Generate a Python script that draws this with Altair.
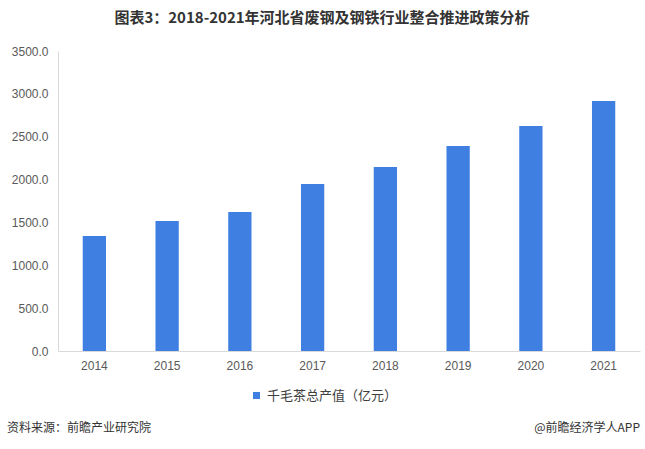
import altair as alt
import pandas as pd

years = ["2014", "2015", "2016", "2017", "2018", "2019", "2020", "2021"]
values = [1342, 1517, 1622, 1948, 2147, 2392, 2625, 2917]
series_name = "千毛茶总产值（亿元）"
title_text = "图表3：2018-2021年河北省废钢及钢铁行业整合推进政策分析"
source_text = "资料来源：前瞻产业研究院"
brand_text = "@前瞻经济学人APP"
y_ticks = [0, 500, 1000, 1500, 2000, 2500, 3000, 3500]

df = pd.DataFrame({"year": years, "value": values, "series": [series_name] * len(years)})

FONT = "Noto Sans CJK SC"
W, H = 582, 300

bars = alt.Chart(df).mark_bar(color="#3F7FE2").encode(
    x=alt.X("year:N", sort=years, title=None,
            scale=alt.Scale(paddingInner=0.68, paddingOuter=0.34),
            axis=alt.Axis(labelAngle=0, ticks=False, domainColor="#D9D9D9",
                          labelColor="#595959", labelFontSize=12, labelFont="Liberation Sans",
                          labelPadding=9)),
    y=alt.Y("value:Q", title=None,
            scale=alt.Scale(domain=[0, 3500], nice=False),
            axis=alt.Axis(values=y_ticks, format=".1f", ticks=False, grid=False,
                          domainColor="#D9D9D9", labelColor="#595959", labelFontSize=12,
                          labelFont="Liberation Sans", labelPadding=10)),
    color=alt.Color("series:N", scale=alt.Scale(range=["#3F7FE2"]),
                    legend=alt.Legend(title=None, orient="none", legendX=192, legendY=338,
                                      symbolType="square", symbolSize=50,
                                      labelFont=FONT, labelFontSize=13, labelColor="#404040",
                                      symbolStrokeWidth=0)),
)

title = alt.Chart(pd.DataFrame({"t": [title_text]})).mark_text(
    font=FONT, fontSize=15, fontWeight="bold", color="#333333", align="center", baseline="middle"
).encode(text="t:N", x=alt.value(264), y=alt.value(-33))

source = alt.Chart(pd.DataFrame({"t": [source_text]})).mark_text(
    font=FONT, fontSize=12, color="#333333", align="left", baseline="middle"
).encode(text="t:N", x=alt.value(-51), y=alt.value(377))

brand = alt.Chart(pd.DataFrame({"t": [brand_text]})).mark_text(
    font=FONT, fontSize=12, color="#333333", align="right", baseline="middle"
).encode(text="t:N", x=alt.value(582), y=alt.value(377))

chart = alt.layer(bars, title, source, brand).properties(
    width=W, height=H,
    autosize=alt.AutoSizeParams(type="none"),
    padding={"left": 58, "top": 51, "right": 5, "bottom": 98},
    background="white",
).configure_view(stroke=None)

chart.save("out.html", embed_options={"renderer": "svg", "actions": False})
